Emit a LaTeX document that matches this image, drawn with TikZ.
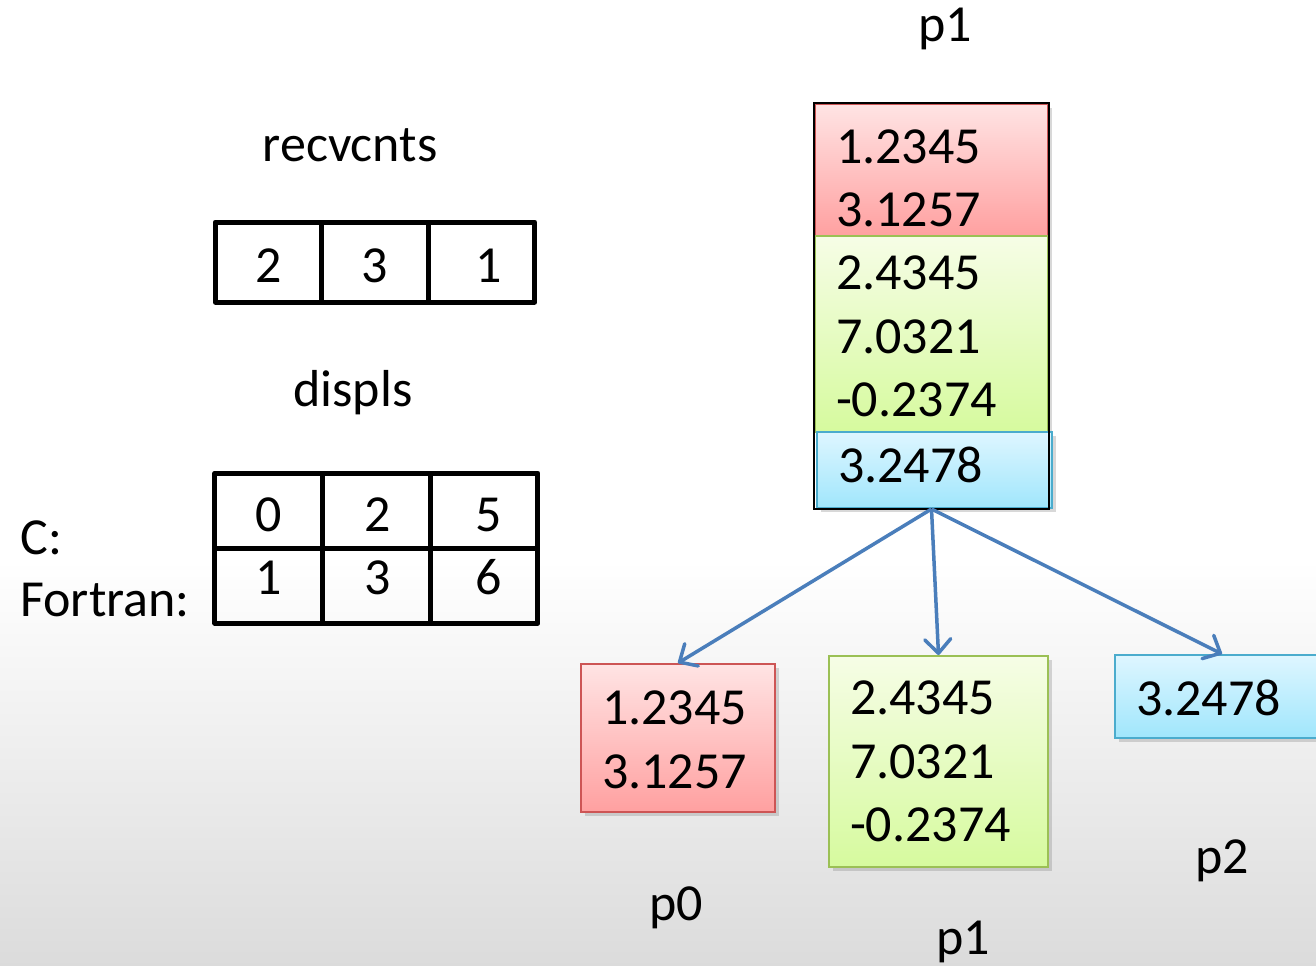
\documentclass[tikz,border=0pt]{standalone}
\usepackage{fontspec}
\setmainfont{Carlito}
\usetikzlibrary{arrows.meta,shadows}
\definecolor{redtop}{RGB}{255,228,228}
\definecolor{redbot}{RGB}{255,160,160}
\definecolor{redline}{RGB}{205,85,85}
\definecolor{greentop}{RGB}{246,253,230}
\definecolor{greenbot}{RGB}{214,250,158}
\definecolor{greenline}{RGB}{155,192,85}
\definecolor{bluetop}{RGB}{222,246,255}
\definecolor{bluebot}{RGB}{160,230,252}
\definecolor{blueline}{RGB}{75,172,205}
\definecolor{arrowblue}{RGB}{74,126,187}
\newcommand\firstrow[2]{\raisebox{0pt}[#1][0pt]{#2}}

\begin{document}
\begin{tikzpicture}[x=0.5pt,y=-0.5pt]
		\tikzstyle{every node}+=[inner sep=0pt,font=\fontsize{26}{31.75}\selectfont]
		\tikzstyle{cell}=[draw,line width=2.5pt,line join=round]
		\tikzstyle{valbox}=[inner xsep=10.5pt,align=left,line width=1pt]
		\tikzstyle{shadowed}=[drop shadow={shadow xshift=2pt,shadow yshift=-2pt,opacity=0.3}]
		\tikzstyle{redbox}=[valbox,shadowed,draw=redline,top color=redtop,bottom color=redbot]
		\tikzstyle{greenbox}=[valbox,shadowed,draw=greenline,top color=greentop,bottom color=greenbot]
		\tikzstyle{bluebox}=[valbox,shadowed,draw=blueline,top color=bluetop,bottom color=bluebot]
		\tikzstyle{bcast}=[draw=arrowblue,line width=1.75pt,-{Straight Barb[length=7pt,width=13pt,round]}]
		\useasboundingbox (0,0) rectangle (1316,965);
		\fill [white] (0,0) rectangle (1316,560);
		\shade [top color=white,bottom color=black!14] (0,560) rectangle (1316,965);
		% counts and displacements
		\node (rlab) at (350,145) {recvcnts};
		\foreach \v/\s [count=\i] in {2/0,3/0,1/7.5}
			\node [cell,minimum width=53.25pt,minimum height=40pt,text height=20pt,text depth=0pt] (rc\i) at ({162+106.5*\i},262) {\hspace*{\s pt}\v};
		\node (dlab) at (353,393) {displs};
		\foreach \v/\s [count=\i] in {0/0,2/1,5/5}
			\node [cell,minimum width=53.85pt,minimum height=37.5pt,text height=21pt,text depth=0pt] (dc\i) at ({161+107.7*\i},510.5) {\hspace*{\s pt}\v};
		\foreach \v/\s [count=\i] in {1/0,3/1,6/5}
			\node [cell,minimum width=53.85pt,minimum height=37.5pt,text height=16.5pt,text depth=7.5pt] (df\i) at ({161+107.7*\i},585.5) {\hspace*{\s pt}\v};
		\node [anchor=west] (clab) at (20,538) {C:};
		\node [anchor=west] (flab) at (20,600) {Fortran:};
		% root buffer
		\node (top) at (945,29) {p1};
		\node [redbox,text width=95.5pt,minimum height=66pt] (rs) at (931.5,170) {\firstrow{25pt}{1.2345}\\3.1257};
		\node [greenbox,text width=95.5pt,minimum height=98pt] (gs) at (931.5,334) {\firstrow{19.5pt}{2.4345}\\7.0321\\-0.2374};
		\node [bluebox,text width=96.5pt,minimum height=38pt] (bs) at (934.5,470) {\firstrow{12pt}{3.2478}};
		\draw [line width=1pt] (rs.north west) rectangle (rs.east |- bs.south);
		% receiving processes
		\node [redbox,text width=76pt,minimum height=74pt] (r0) at (678,738) {\firstrow{18.5pt}{1.2345}\\3.1257};
		\node [greenbox,text width=88.5pt,minimum height=105.5pt] (g1) at (938.5,761.5) {2.4345\\7.0321\\-0.2374};
		\node [bluebox,text width=86pt,minimum height=41.5pt] (b2) at (1222,696.5) {\firstrow{18.5pt}{3.2478}};
		\foreach \t in {r0,g1,b2}
			\draw [bcast] (rs.south |- bs.south) -- (\t.north);
		\node (p0) at (676,908) {p0};
		\node (p1) at (963,942) {p1};
		\node (p2) at (1222,861) {p2};
\end{tikzpicture}
\end{document}
